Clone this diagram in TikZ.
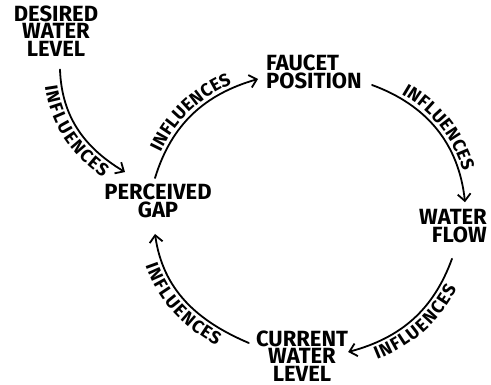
\documentclass[tikz,border=0pt]{standalone}
\usepackage{fontspec}
\setmainfont{Fira Sans}
\usetikzlibrary{arrows.meta,decorations.text}
\newcommand{\inflfont}{\bfseries\fontsize{18}{18}\selectfont}
\begin{document}
\begin{tikzpicture}[x=1pt,y=1pt,
  lbl/.style={font=\bfseries\fontsize{22}{17.5}\selectfont, align=center, inner sep=2pt},
  arr/.style={line width=1.8pt, line cap=round,
    -{Straight Barb[length=7pt,width=13pt,line width=1.8pt]}},
  inflout/.style={decorate, decoration={text along path,
    text={|\inflfont|INFLUENCES}, text align=center, raise=4pt}},
  inflin/.style={decorate, decoration={text along path,
    text={|\inflfont|INFLUENCES}, text align=center, raise=-16.5pt}}
]
\useasboundingbox (0,0) rectangle (491,385);

\node[lbl] (dwl) at (56,354) {DESIRED\\WATER\\LEVEL};
\node[lbl] (pg) at (158,184) {PERCEIVED\\GAP};
\node[lbl, align=left] (fp) at (314,313) {FAUCET\\POSITION};
\node[lbl, align=right] (wf) at (453,159) {WATER\\FLOW};
\node[lbl] (cwl) at (302,29) {CURRENT\\WATER\\LEVEL};

% Desired -> Perceived
\draw[arr] ([shift={(4,-11)}]dwl.south) to[out=-88,in=149] ([shift={(-33,10)}]pg.north);
\path[inflin] ([shift={(4,-11)}]dwl.south) to[out=-88,in=149] ([shift={(-33,10)}]pg.north);

% Perceived -> Faucet
\draw[arr] ([shift={(-3,4)}]pg.north) to[out=73,in=196] ([shift={(-6,-7)}]fp.west);
\path[inflout] ([shift={(-3,4)}]pg.north) to[out=73,in=196] ([shift={(-6,-7)}]fp.west);

% Faucet -> Water flow
\draw[arr] ([shift={(8,-13)}]fp.east) to[out=-20,in=96] ([shift={(12,5)}]wf.north);
\path[inflout] ([shift={(8,-13)}]fp.east) to[out=-20,in=96] ([shift={(12,5)}]wf.north);

% Water flow -> Current
\draw[arr] ([shift={(-1,-14)}]wf.south) to[out=-110,in=15] ([shift={(-2,4)}]cwl.east);
\path[inflin] ([shift={(-2,4)}]cwl.east) to[out=15,in=-110] ([shift={(-1,-14)}]wf.south);

% Current -> Perceived
\draw[arr] ([shift={(-5,13)}]cwl.west) to[out=157,in=278] ([shift={(-3,-14)}]pg.south);
\path[inflin] ([shift={(-3,-14)}]pg.south) to[out=278,in=157] ([shift={(-5,13)}]cwl.west);
\end{tikzpicture}
\end{document}
